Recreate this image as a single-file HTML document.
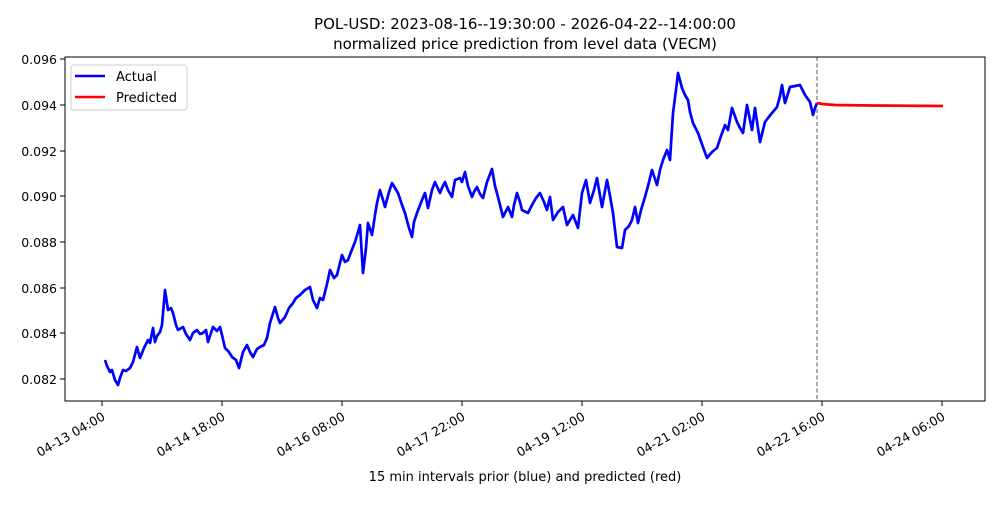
<!DOCTYPE html>
<html><head><meta charset="utf-8"><style>
body{margin:0;background:#fff;}
svg text{font-family:"DejaVu Sans","Liberation Sans",sans-serif;fill:#000;}
</style></head><body>
<svg width="1000" height="500" viewBox="0 0 1000 500" xmlns="http://www.w3.org/2000/svg">
<rect width="1000" height="500" fill="#fff"/>
<text x="525" y="29" font-size="15" text-anchor="middle">POL-USD: 2023-08-16--19:30:00 - 2026-04-22--14:00:00</text>
<text x="525" y="49" font-size="15" text-anchor="middle">normalized price prediction from level data (VECM)</text>
<g stroke="#000" stroke-width="1">
<line x1="65" y1="59" x2="60" y2="59"/><line x1="65" y1="105" x2="60" y2="105"/><line x1="65" y1="151" x2="60" y2="151"/><line x1="65" y1="196" x2="60" y2="196"/><line x1="65" y1="242" x2="60" y2="242"/><line x1="65" y1="288" x2="60" y2="288"/><line x1="65" y1="333" x2="60" y2="333"/><line x1="65" y1="379" x2="60" y2="379"/>
<line x1="102" y1="401" x2="102" y2="406"/><line x1="222" y1="401" x2="222" y2="406"/><line x1="342" y1="401" x2="342" y2="406"/><line x1="462" y1="401" x2="462" y2="406"/><line x1="582" y1="401" x2="582" y2="406"/><line x1="702" y1="401" x2="702" y2="406"/><line x1="822" y1="401" x2="822" y2="406"/><line x1="942" y1="401" x2="942" y2="406"/>
</g>
<g font-size="12.5" text-anchor="end">
<text x="57" y="64">0.096</text><text x="57" y="110">0.094</text><text x="57" y="156">0.092</text><text x="57" y="201">0.090</text><text x="57" y="247">0.088</text><text x="57" y="293">0.086</text><text x="57" y="338">0.084</text><text x="57" y="384">0.082</text>
</g>
<g font-size="12.5" text-anchor="end">
<text transform="translate(106,419) rotate(-30)">04-13 04:00</text>
<text transform="translate(226,419) rotate(-30)">04-14 18:00</text>
<text transform="translate(346,419) rotate(-30)">04-16 08:00</text>
<text transform="translate(466,419) rotate(-30)">04-17 22:00</text>
<text transform="translate(586,419) rotate(-30)">04-19 12:00</text>
<text transform="translate(706,419) rotate(-30)">04-21 02:00</text>
<text transform="translate(826,419) rotate(-30)">04-22 16:00</text>
<text transform="translate(946,419) rotate(-30)">04-24 06:00</text>
</g>
<text x="525" y="481" font-size="13" text-anchor="middle">15 min intervals prior (blue) and predicted (red)</text>
<line x1="817" y1="57" x2="817" y2="401" stroke="#555" stroke-width="1" stroke-dasharray="4,2.5"/>
<polyline fill="none" stroke="#0000ff" stroke-width="2.7" stroke-linejoin="round" points="105,360 107,366 110,372 112,370 115,380 118,385 120,378 123,370 126,371 130,368 133,362 137,347 140,358 144,348 148,340 150,343 153,328 155,342 157,336 160,332 162,325 165,290 168,310 171,308 173,313 176,325 178,330 183,327 186,334 190,340 193,333 197,330 200,334 203,333 206,330 208,342 213,327 217,331 220,327 222,335 225,348 229,352 232,357 236,360 239,368 243,352 247,345 250,352 253,357 257,349 260,347 264,345 267,338 270,323 275,307 278,318 280,323 285,317 289,308 293,303 296,298 300,295 305,290 310,287 313,300 317,308 320,298 323,300 327,284 330,270 334,278 337,275 342,255 345,262 348,260 351,252 355,242 358,232 360,225 363,273 366,248 368,223 372,235 375,215 377,203 380,190 383,200 385,207 389,192 392,183 395,188 398,193 402,205 405,213 409,228 412,237 414,222 417,213 422,200 425,193 428,208 432,190 435,182 440,193 442,188 445,182 448,190 452,197 455,180 460,178 462,182 465,172 468,186 472,197 474,192 477,187 480,194 483,198 487,182 492,169 495,186 498,197 503,217 508,207 512,217 514,205 517,193 520,202 522,210 528,213 532,205 536,198 540,193 544,202 547,210 550,197 553,220 558,212 563,207 567,225 573,215 578,228 582,193 586,180 590,203 594,190 597,178 602,207 607,180 610,196 613,213 617,247 622,248 625,230 629,226 632,220 635,207 638,223 641,210 645,197 648,186 652,170 657,185 660,170 663,160 667,150 670,160 673,113 676,90 678,73 682,88 685,95 688,100 690,112 693,123 698,133 703,147 707,158 712,152 717,148 721,136 725,125 728,130 732,108 737,122 740,128 743,133 747,105 750,120 752,130 755,108 760,142 765,122 768,118 772,113 777,107 780,96 782,85 785,103 790,87 795,86 800,85 805,95 810,102 813,115 815,108 817,103"/>
<polyline fill="none" stroke="#ff0000" stroke-width="2.7" points="817,103 822,104 835,105 870,105.5 943,106"/>
<rect x="65" y="57" width="920" height="344" fill="none" stroke="#000" stroke-width="1"/>
<rect x="71" y="65" width="116" height="45" rx="3" fill="#fff" stroke="#ccc" stroke-width="1"/>
<line x1="75" y1="76" x2="105" y2="76" stroke="#0000ff" stroke-width="2.5"/>
<line x1="75" y1="97" x2="105" y2="97" stroke="#ff0000" stroke-width="2.5"/>
<text x="116" y="81" font-size="13">Actual</text>
<text x="116" y="102" font-size="13">Predicted</text>
</svg>
</body></html>
